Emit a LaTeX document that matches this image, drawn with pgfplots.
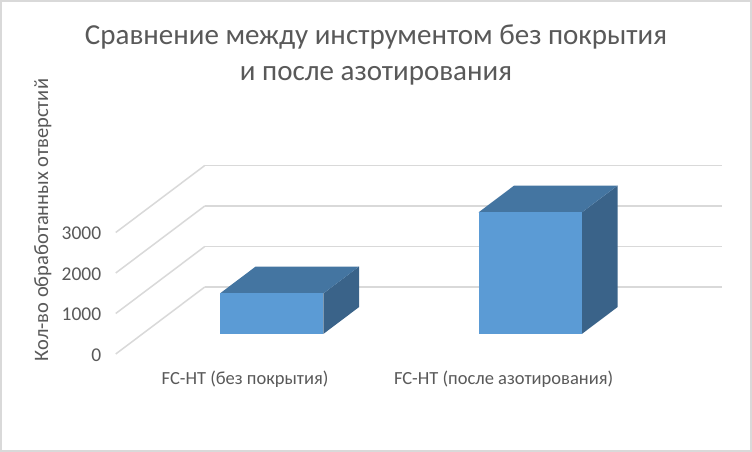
\documentclass[border=0pt]{standalone}
\usepackage{pgfplots}
\pgfplotsset{compat=1.18}
\usepackage{fontspec}
\setmainfont{Carlito}
\definecolor{txt}{HTML}{595959}
\definecolor{grd}{HTML}{D9D9D9}
\definecolor{fr}{HTML}{5B9BD5}
\definecolor{tp}{HTML}{4475A1}
\definecolor{sd}{HTML}{3A6389}
\begin{document}
\begin{tikzpicture}[x=1pt,y=1pt]
\path[fill=white,draw=none] (0,0) rectangle (752,452);
\draw[draw=grd,line width=2pt] (1,1) rectangle (751,451);
\begin{axis}[
  at={(245pt,98pt)},anchor=origin,
  x={(258.5pt,0pt)},y={(89pt,67pt)},z={(0pt,0.0405pt)},
  xmin=-0.5,xmax=1.5,ymin=0,ymax=1,zmin=0,zmax=3000,
  xtick={0,1},xticklabels={FC-HT (без покрытия),FC-HT (после азотирования)},
  ytick=\empty,ztick={0,1000,2000,3000},
  zmajorgrids=true,
  grid style={grd,line width=1.5pt},
  axis line style={draw=none},
  major tick length=0pt,
  clip=false,
  tick label style={font=\fontsize{19}{21}\selectfont,text=txt},
  x tick label style={font=\fontsize{18.5}{21}\selectfont,yshift=-13pt,xshift=6pt},
  z tick label style={font=\fontsize{19.5}{21}\selectfont,anchor=east,xshift=-11pt,yshift=-1pt},
  /pgf/number format/assume math mode=true,
  /pgf/number format/1000 sep={},
  zlabel={Кол-во обработанных отверстий},
  every axis z label/.style={at={(axis cs:-0.782,0,3309)},rotate=90,anchor=center,font=\fontsize{20.5}{22}\selectfont,text=txt},
]
\addplot3[fill=sd,draw=none] coordinates {(0.2,0.3,0) (0.2,0.7,0) (0.2,0.7,1000) (0.2,0.3,1000)} -- cycle;
\addplot3[fill=tp,draw=none] coordinates {(-0.2,0.3,1000) (0.2,0.3,1000) (0.2,0.7,1000) (-0.2,0.7,1000)} -- cycle;
\addplot3[fill=fr,draw=none] coordinates {(-0.2,0.3,0) (0.2,0.3,0) (0.2,0.3,1000) (-0.2,0.3,1000)} -- cycle;
\addplot3[fill=sd,draw=none] coordinates {(1.2,0.3,0) (1.2,0.7,0) (1.2,0.7,3000) (1.2,0.3,3000)} -- cycle;
\addplot3[fill=tp,draw=none] coordinates {(0.8,0.3,3000) (1.2,0.3,3000) (1.2,0.7,3000) (0.8,0.7,3000)} -- cycle;
\addplot3[fill=fr,draw=none] coordinates {(0.8,0.3,0) (1.2,0.3,0) (1.2,0.3,3000) (0.8,0.3,3000)} -- cycle;
\end{axis}
\node[font=\fontsize{29}{36.5}\selectfont,text=txt,align=center,anchor=center] at (376,397) {Сравнение между инструментом без покрытия\\и после азотирования};
\end{tikzpicture}
\end{document}
